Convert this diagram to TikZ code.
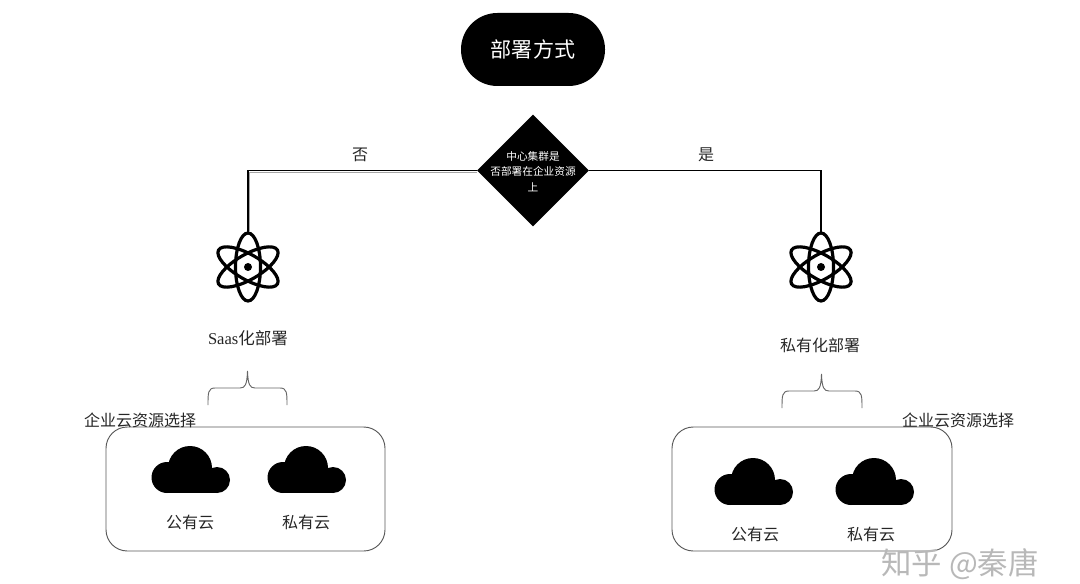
\documentclass[tikz,border=0pt]{standalone}
\usepackage{fontspec}
\setmainfont{Liberation Serif}
\newfontfamily\cjk{Noto Sans CJK SC}
\usetikzlibrary{shapes.geometric}
\tikzset{
  x=0.75pt,y=-0.75pt,
  lbl/.style={font=\cjk\fontsize{12pt}{14pt}\selectfont,text=black!85,inner sep=0pt},
  link/.style={draw=black,line width=1pt},
  linkshade/.style={draw=black!35,line width=0.8pt},
  bracket/.style={draw=black!60,line width=0.7pt},
  panel/.style={draw=black!65,line width=0.7pt,rounded corners=16pt},
  anchorbox/.style={minimum size=52.5pt,inner sep=0pt,outer sep=0pt},
  pics/atomicon/.style={code={
    \draw[line width=2.4pt,black] (0,0) ellipse [x radius=12.5,y radius=34];
    \draw[line width=2.4pt,black,rotate=60] (0,0) ellipse [x radius=12.5,y radius=34];
    \draw[line width=2.4pt,black,rotate=-60] (0,0) ellipse [x radius=12.5,y radius=34];
    \fill[black] (0,0) circle [radius=4];
  }},
  pics/cloudicon/.style={code={
    \fill[black] (-23,9.5) circle [radius=15.5];
    \fill[black] (0,0) circle [radius=22];
    \fill[black] (27,12) circle [radius=13];
    \fill[black] (-23,12) rectangle (27,25);
  }}
}
\begin{document}
\begin{tikzpicture}
\useasboundingbox (0,0) rectangle (1080,584);
\fill[white] (0,0) rectangle (1080,584);

% title and decision
\node[fill=black,text=white,rounded corners=27.3pt,minimum width=108pt,minimum height=54.75pt,inner sep=0pt,
      font=\cjk\fontsize{15.8pt}{18pt}\selectfont] (title) at (533,49.5) {部署方式};
\node[diamond,fill=black,aspect=1,minimum width=84pt,minimum height=84pt,inner sep=0pt] (decision) at (533,170.5) {};
\node[text=white,font=\cjk\fontsize{8pt}{11.6pt}\selectfont,align=center,inner sep=0pt] (decisionText) at (533,171.5)
  {中心集群是\\否部署在企业资源\\上};

% atoms
\node[anchorbox] (atomL) at (248,267) {};
\node[anchorbox] (atomR) at (821,267) {};
\pic at (atomL) {atomicon};
\pic at (atomR) {atomicon};

% connectors
\draw[linkshade] ([yshift=-1.2pt]decision.west) -| ([xshift=1.2pt]atomL.north);
\draw[link] (decision.west) -| (atomL.north);
\draw[link] (decision.east) -| (atomR.north);
\node[lbl] (no) at (360,155) {否};
\node[lbl] (yes) at (706,155) {是};

% deployment labels
\node[lbl,font=\cjk\fontsize{12.4pt}{14pt}\selectfont] (saas) at (248,338) {\rmfamily Saas\cjk 化部署};
\node[lbl] (priv) at (820,345) {私有化部署};

% brackets
\draw[bracket] (208,405) .. controls (208,393) and (208,388) .. (215,388) -- (240,388)
   .. controls (245,388) and (247,385) .. (247.5,371) .. controls (248,385) and (250,388) .. (255,388)
   -- (280,388) .. controls (287,388) and (287,393) .. (287,405);
\draw[bracket] (782,408) .. controls (782,396) and (782,391) .. (789,391) -- (814,391)
   .. controls (819,391) and (821,388) .. (821.5,374) .. controls (822,388) and (824,391) .. (829,391)
   -- (855,391) .. controls (862,391) and (862,396) .. (862,408);

% panels
\node[panel,minimum width=209.25pt,minimum height=93pt,inner sep=0pt] (panelL) at (245.5,489) {};
\node[panel,minimum width=210pt,minimum height=93pt,inner sep=0pt] (panelR) at (812,489) {};
\node[lbl] (selL) at (140,420) {企业云资源选择};
\node[lbl] (selR) at (958,420) {企业云资源选择};

% clouds
\pic at (190,468) {cloudicon};
\pic at (306,468) {cloudicon};
\pic at (753,480) {cloudicon};
\pic at (874,480) {cloudicon};
\node[lbl] (pubL) at (190,522) {公有云};
\node[lbl] (priL) at (306,522) {私有云};
\node[lbl] (pubR) at (755,534) {公有云};
\node[lbl] (priR) at (871,534) {私有云};

% watermark
\node[text=black!28,font=\cjk\fontsize{22.8pt}{24pt}\selectfont,inner sep=0pt,anchor=east] (mark) at (1039,564) {知乎 @秦唐};
\end{tikzpicture}
\end{document}
